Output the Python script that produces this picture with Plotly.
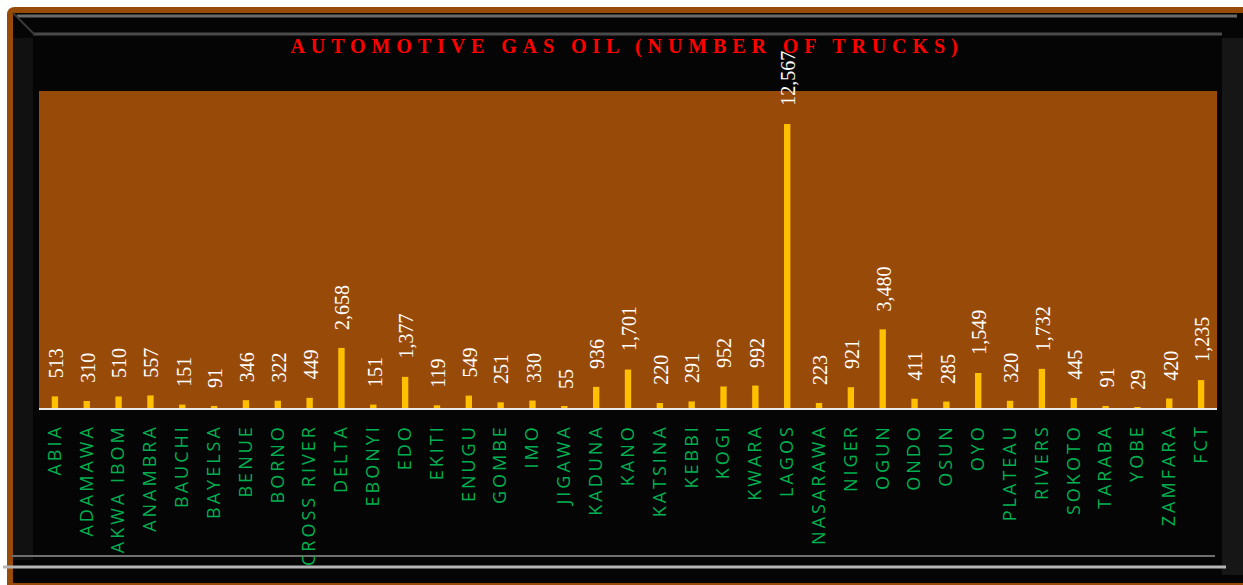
import plotly.graph_objects as go

states = ["ABIA", "ADAMAWA", "AKWA IBOM", "ANAMBRA", "BAUCHI", "BAYELSA", "BENUE", "BORNO",
          "CROSS RIVER", "DELTA", "EBONYI", "EDO", "EKITI", "ENUGU", "GOMBE", "IMO", "JIGAWA",
          "KADUNA", "KANO", "KATSINA", "KEBBI", "KOGI", "KWARA", "LAGOS", "NASARAWA", "NIGER",
          "OGUN", "ONDO", "OSUN", "OYO", "PLATEAU", "RIVERS", "SOKOTO", "TARABA", "YOBE",
          "ZAMFARA", "FCT"]
trucks = [513, 310, 510, 557, 151, 91, 346, 322, 449, 2658, 151, 1377, 119, 549, 251, 330, 55,
          936, 1701, 220, 291, 952, 992, 12567, 223, 921, 3480, 411, 285, 1549, 320, 1732, 445,
          91, 29, 420, 1235]
title_text = "AUTOMOTIVE GAS OIL (NUMBER OF TRUCKS)"

W, H = 1243, 585
L, R, T, B = 39, 26, 91, 177
PW, PH = W - L - R, H - T - B

def px(x):
    return (x - L) / PW

def py(y):
    return (H - B - y) / PH

BROWN = "#984A08"

fig = go.Figure()
fig.add_trace(go.Bar(
    x=states, y=trucks, marker=dict(color="#FFC000", line=dict(width=0)),
    hoverinfo="x+y", cliponaxis=False,
))

for s, v in zip(states, trucks):
    fig.add_annotation(
        x=s, y=v, text=f"{v:,}", textangle=-90, showarrow=False,
        xanchor="center", yanchor="bottom", yshift=16, xshift=1,
        font=dict(family="Liberation Serif", size=20, color="white"),
    )

shapes = []
# outer brown rounded frame
x0, y0, x1, y1 = px(7), py(7), px(1260), py(600)
rx, ry = 8 / PW, 8 / PH
shapes.append(dict(
    type="path", xref="paper", yref="paper", layer="below",
    path=(f"M {x0+rx},{y0} L {x1},{y0} L {x1},{y1} L {x0},{y1} L {x0},{y0-ry} "
          f"Q {x0},{y0} {x0+rx},{y0} Z"),
    fillcolor=BROWN, line=dict(width=0)))
# black frame
shapes.append(dict(type="rect", xref="paper", yref="paper", layer="below",
                   x0=px(13), y0=py(13), x1=px(1260), y1=py(583),
                   fillcolor="#050505", line=dict(width=0)))
# left bevel shading
shapes.append(dict(type="rect", xref="paper", yref="paper", layer="below",
                   x0=px(13), y0=py(38), x1=px(33), y1=py(560),
                   fillcolor="#111111", line=dict(width=0)))
# right bevel shading
shapes.append(dict(type="rect", xref="paper", yref="paper", layer="below",
                   x0=px(1222), y0=py(38), x1=px(1260), y1=py(575),
                   fillcolor="#161616", line=dict(width=0)))
# bevel lines
for (a, b, c, d, col, w) in [
    (17, 16, 1237, 16, "#6a6a6a", 3),
    (33, 34, 1222, 34, "#4a4a4a", 3),
    (13, 13, 35, 35, "#3a3a3a", 2),
    (12, 556, 1215, 556, "#6f6f6f", 2),
    (3, 567, 1226, 567, "#b5b5b5", 3),
]:
    shapes.append(dict(type="line", xref="paper", yref="paper", layer="below",
                       x0=px(a), y0=py(b), x1=px(c), y1=py(d),
                       line=dict(color=col, width=w)))
# plot area background
shapes.append(dict(type="rect", xref="paper", yref="paper", layer="below",
                   x0=0, y0=0, x1=1, y1=1, fillcolor=BROWN, line=dict(width=0)))

fig.update_layout(
    width=W, height=H,
    margin=dict(l=L, r=R, t=T, b=B, pad=0),
    paper_bgcolor="white", plot_bgcolor="rgba(0,0,0,0)",
    shapes=shapes,
    bargap=0.8,
    showlegend=False,
    title=dict(text=title_text, x=px(627), xanchor="center", xref="paper",
               y=1 - 46 / H, yanchor="middle", yref="container",
               font=dict(family="Liberation Serif", size=20, color="#FF0000", weight="bold")),
    xaxis=dict(
        type="category", tickangle=-90, showgrid=False, zeroline=False,
        showline=True, linecolor="#e8e8e8", linewidth=2, ticks="",
        ticklabelstandoff=7,
        tickfont=dict(family="Open Sans", size=18, color="#00B050"),
    ),
    yaxis=dict(range=[0, 14027], visible=False, showgrid=False, zeroline=False),
)

css = ("html,body{margin:0;padding:0;}"
       ".gtitle{letter-spacing:5.9px;}"
       ".xtick text{letter-spacing:3px;}")
post = ("var st=document.createElement('style');st.innerHTML='" + css + "';"
        "document.head.appendChild(st);document.body.style.margin='0';")
fig.write_html("out.html", post_script=post, config={"displayModeBar": False})
